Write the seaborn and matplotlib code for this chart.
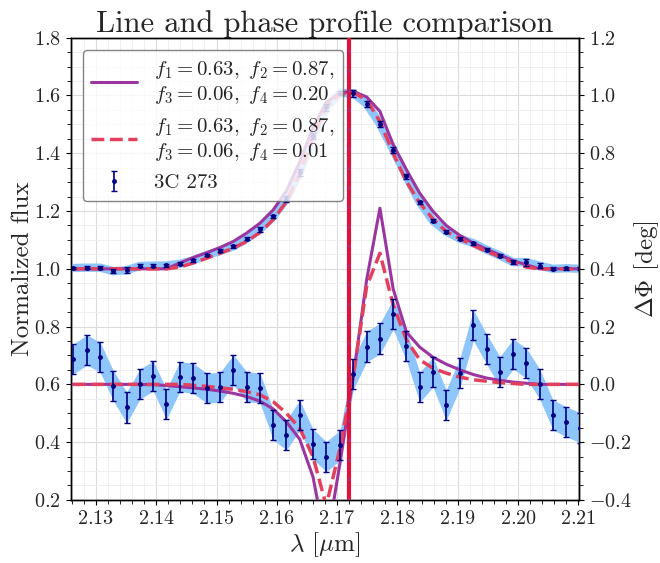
import numpy as np
import seaborn as sns
import matplotlib.pyplot as plt
from matplotlib.ticker import MultipleLocator

# wavelength grid [micron]
wave = [2.1262, 2.1285, 2.1307, 2.1329, 2.1351, 2.1373, 2.1395, 2.1417, 2.1439, 2.1461,
        2.1484, 2.1506, 2.1528, 2.1550, 2.1572, 2.1594, 2.1616, 2.1638, 2.1660, 2.1682,
        2.1705, 2.1727, 2.1749, 2.1771, 2.1793, 2.1815, 2.1837, 2.1859, 2.1881, 2.1904,
        2.1926, 2.1948, 2.1970, 2.1992, 2.2014, 2.2036, 2.2058, 2.2080, 2.2103]

# 3C 273 normalized flux + errors
flux = [1.003, 1.004, 1.004, 0.992, 0.995, 1.010, 1.011, 1.012, 1.017, 1.029,
        1.048, 1.062, 1.078, 1.104, 1.137, 1.182, 1.242, 1.335, 1.460, 1.560,
        1.608, 1.608, 1.571, 1.502, 1.412, 1.320, 1.231, 1.166, 1.129, 1.104,
        1.089, 1.066, 1.046, 1.023, 1.023, 1.011, 1.000, 1.002, 1.000]
flux_err = [0.005, 0.005, 0.005, 0.006, 0.010, 0.005, 0.005, 0.005, 0.005, 0.005,
            0.005, 0.005, 0.005, 0.005, 0.008, 0.006, 0.010, 0.012, 0.010, 0.012,
            0.008, 0.012, 0.010, 0.010, 0.010, 0.008, 0.005, 0.005, 0.005, 0.005,
            0.005, 0.005, 0.005, 0.007, 0.012, 0.008, 0.005, 0.005, 0.005]

# differential phase [deg] + errors
phase = [0.087, 0.119, 0.094, -0.005, -0.080, 0.001, 0.029, -0.069, 0.027, 0.021,
         -0.013, -0.010, 0.050, -0.008, -0.012, -0.140, -0.175, -0.107, -0.207, -0.250,
         -0.211, 0.035, 0.131, 0.158, 0.243, 0.134, -0.010, 0.043, -0.072, 0.041,
         0.205, 0.122, 0.044, 0.105, 0.073, 0.001, -0.106, -0.129, -0.150]
phase_err = [0.052, 0.052, 0.052, 0.052, 0.054, 0.052, 0.052, 0.052, 0.052, 0.052,
             0.052, 0.052, 0.052, 0.052, 0.052, 0.052, 0.052, 0.052, 0.052, 0.052,
             0.052, 0.052, 0.053, 0.053, 0.053, 0.052, 0.052, 0.052, 0.053, 0.052,
             0.053, 0.052, 0.052, 0.052, 0.052, 0.052, 0.052, 0.052, 0.052]

# model 1 (f4 = 0.20)
flux_m1 = [1.0, 1.0, 1.0, 1.0, 1.0, 1.0, 1.0, 1.0, 1.020, 1.039,
           1.056, 1.074, 1.095, 1.124, 1.158, 1.204, 1.270, 1.370, 1.490, 1.575,
           1.610, 1.614, 1.595, 1.545, 1.430, 1.343, 1.262, 1.199, 1.150, 1.115,
           1.089, 1.068, 1.048, 1.028, 1.014, 1.0, 1.0, 1.0, 1.0]
phase_m1 = [0.0, 0.0, 0.0, 0.0, 0.0, 0.0, -0.001, -0.004, -0.008, -0.012,
            -0.017, -0.023, -0.031, -0.042, -0.058, -0.085, -0.130, -0.190, -0.320, -0.560,
            -0.270, 0.030, 0.362, 0.610, 0.330, 0.181, 0.129, 0.094, 0.070, 0.050,
            0.034, 0.022, 0.014, 0.008, 0.004, 0.0, 0.0, 0.0, 0.0]

# model 2 (f4 = 0.01)
flux_m2 = [1.0, 1.0, 1.0, 1.0, 1.0, 1.0, 1.0, 1.0, 1.006, 1.020,
           1.037, 1.054, 1.072, 1.095, 1.126, 1.170, 1.233, 1.330, 1.455, 1.560,
           1.605, 1.610, 1.585, 1.510, 1.400, 1.302, 1.228, 1.172, 1.129, 1.104,
           1.081, 1.060, 1.042, 1.022, 1.006, 1.0, 1.0, 1.0, 1.0]
phase_m2 = [0.0, 0.0, 0.0, 0.0, 0.0, 0.0, 0.0, 0.0, 0.0, -0.003,
            -0.007, -0.012, -0.017, -0.025, -0.036, -0.060, -0.100, -0.152, -0.250, -0.420,
            -0.220, 0.030, 0.339, 0.454, 0.275, 0.154, 0.085, 0.056, 0.039, 0.025,
            0.016, 0.011, 0.006, 0.003, 0.0, 0.0, 0.0, 0.0, 0.0]

line_center = 2.1720   # Pa alpha at z of 3C 273

label_m1 = '$f_1 = 0.63,\\ f_2 = 0.87,$\n$f_3 = 0.06,\\ f_4 = 0.20$'
label_m2 = '$f_1 = 0.63,\\ f_2 = 0.87,$\n$f_3 = 0.06,\\ f_4 = 0.01$'

sns.set_style('ticks')
plt.rcParams['font.family'] = 'serif'
plt.rcParams['font.serif'] = ['cmr10']
plt.rcParams['mathtext.fontset'] = 'cm'
plt.rcParams['axes.formatter.use_mathtext'] = True
plt.rcParams['axes.unicode_minus'] = True

band_col = '#8ec5fa'
purple = '#9b35a0'
red = '#e2405f'

fig = plt.figure(figsize=(6.6, 5.63), dpi=100)
ax = fig.add_subplot(111)
fig.subplots_adjust(left=0.107, right=0.878, top=0.933, bottom=0.112)
ax2 = ax.twinx()

w = np.array(wave)
f = np.array(flux); fe = np.array(flux_err)
p = np.array(phase); pe = np.array(phase_err)

# flux panel (left axis)
ax.fill_between(w, f - fe, f + fe, color=band_col, lw=0, zorder=2)
ax.plot(w, f, color=band_col, lw=6, zorder=2, solid_capstyle='butt')
sns.lineplot(x=wave, y=flux_m1, ax=ax, color=purple, lw=2.2, zorder=3, label=label_m1)
sns.lineplot(x=wave, y=flux_m2, ax=ax, color=red, lw=2.5, ls='--', zorder=3, label=label_m2)
ax.errorbar(w, f, yerr=fe, fmt='o', color='navy', ms=2.5, elinewidth=1.2,
            capsize=2, capthick=1, zorder=4, label='3C 273')

# phase panel (right axis, drawn on top)
ax2.fill_between(w, p - pe, p + pe, color=band_col, lw=0, zorder=2)
sns.lineplot(x=wave, y=phase_m1, ax=ax2, color=purple, lw=2.2, zorder=3, legend=False)
sns.lineplot(x=wave, y=phase_m2, ax=ax2, color=red, lw=2.5, ls='--', zorder=3, legend=False)
ax2.errorbar(w, p, yerr=pe, fmt='o', color='navy', ms=2.5, elinewidth=1.2,
             capsize=2, capthick=1, zorder=4)
ax2.axvline(line_center, color='crimson', lw=3, zorder=5)
ax2.axvline(line_center, color=purple, lw=1.0, ls=(0, (2, 12)), zorder=6)

ax.set_xlim(2.1258, 2.2102)
ax.set_ylim(0.2, 1.8)
ax2.set_ylim(-0.4, 1.2)

ax.xaxis.set_major_locator(MultipleLocator(0.01))
ax.xaxis.set_minor_locator(MultipleLocator(0.002))
ax.yaxis.set_major_locator(MultipleLocator(0.2))
ax.yaxis.set_minor_locator(MultipleLocator(0.05))
ax2.yaxis.set_major_locator(MultipleLocator(0.2))
ax2.yaxis.set_minor_locator(MultipleLocator(0.05))

ax.grid(which='major', color='0.86', lw=0.8)
ax.grid(which='minor', color='0.93', lw=0.6)
ax.set_axisbelow(True)

for a in (ax, ax2):
    a.tick_params(which='both', labelsize=14.5, color='black')
    a.tick_params(which='minor', length=3)
    for s in a.spines.values():
        s.set_color('black')
        s.set_linewidth(1.0)

ax.set_xlabel('$\\lambda$ [$\\mu$m]', fontsize=18, labelpad=2)
ax.set_ylabel('Normalized flux', fontsize=18, labelpad=0)
ax2.set_ylabel('$\\Delta\\Phi$ [deg]', fontsize=18, labelpad=0)
ax.set_title('Line and phase profile comparison', fontsize=22, pad=4)

leg = ax.legend(loc='upper left', fontsize=15, framealpha=0.8, edgecolor='0.4',
                handlelength=2.2, labelspacing=0.5, borderaxespad=0.6)
leg.set_zorder(10)

fig.savefig('out.png', dpi=100)
